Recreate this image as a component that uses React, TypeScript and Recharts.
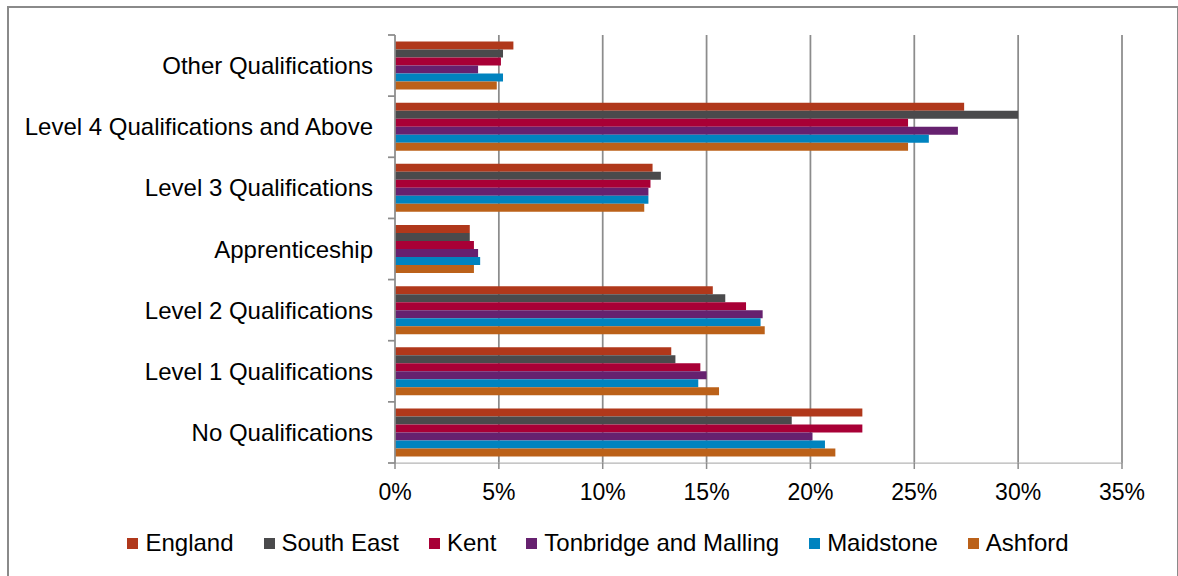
import {
  BarChart,
  Bar,
  XAxis,
  YAxis,
  CartesianGrid,
  Legend,
} from 'recharts'

const categories = [
  'Other Qualifications',
  'Level 4 Qualifications and Above',
  'Level 3 Qualifications',
  'Apprenticeship',
  'Level 2 Qualifications',
  'Level 1 Qualifications',
  'No Qualifications',
]

const england = [5.7, 27.4, 12.4, 3.6, 15.3, 13.3, 22.5]
const southEast = [5.2, 30.0, 12.8, 3.6, 15.9, 13.5, 19.1]
const kent = [5.1, 24.7, 12.3, 3.8, 16.9, 14.7, 22.5]
const tonbridge = [4.0, 27.1, 12.2, 4.0, 17.7, 15.0, 20.1]
const maidstone = [5.2, 25.7, 12.2, 4.1, 17.6, 14.6, 20.7]
const ashford = [4.9, 24.7, 12.0, 3.8, 17.8, 15.6, 21.2]

const xTicks = [0, 5, 10, 15, 20, 25, 30, 35]

const series = [
  { key: 'england', name: 'England', color: '#B0381B', values: england },
  { key: 'southEast', name: 'South East', color: '#4A4A4C', values: southEast },
  { key: 'kent', name: 'Kent', color: '#A80036', values: kent },
  { key: 'tonbridge', name: 'Tonbridge and Malling', color: '#66216F', values: tonbridge },
  { key: 'maidstone', name: 'Maidstone', color: '#0083BF', values: maidstone },
  { key: 'ashford', name: 'Ashford', color: '#BB6119', values: ashford },
]

const data = categories.map((name, i) => {
  const row: Record<string, string | number> = { name }
  series.forEach((s) => {
    row[s.key] = s.values[i]
  })
  return row
})

const WIDTH = 1178
const HEIGHT = 576
const FONT = '"Liberation Sans", Arial, sans-serif'
const AXIS_GREY = '#8c8c8c'
const PLOT_TOP = 35
const PLOT_BOTTOM = 463
const BAND_HALF = (PLOT_BOTTOM - PLOT_TOP) / categories.length / 2
const Y_TICK_SIZE = 7
const Y_TICK_MARGIN = 15

// category label centred on the band, tick marks on the band edges
function CategoryTick(props: any) {
  const { x, y, payload, index, visibleTicksCount } = props
  const axisX = x + Y_TICK_SIZE + Y_TICK_MARGIN
  const last = index === visibleTicksCount - 1
  return (
    <g>
      <line
        x1={axisX - Y_TICK_SIZE}
        x2={axisX}
        y1={y - BAND_HALF}
        y2={y - BAND_HALF}
        stroke={AXIS_GREY}
        strokeWidth={1.75}
      />
      {last && (
        <line
          x1={axisX - Y_TICK_SIZE}
          x2={axisX}
          y1={y + BAND_HALF}
          y2={y + BAND_HALF}
          stroke={AXIS_GREY}
          strokeWidth={1.75}
        />
      )}
      <text
        x={x}
        y={y}
        dy="0.355em"
        textAnchor="end"
        fill="#000"
        fontSize={24}
        fontFamily={FONT}
      >
        {payload.value}
      </text>
    </g>
  )
}

// legend keeps the series order rather than sorting by name
function LegendContent() {
  return (
    <div
      style={{
        display: 'flex',
        justifyContent: 'center',
        alignItems: 'center',
        height: 30,
        paddingLeft: 18,
        fontFamily: FONT,
        fontSize: 24,
        color: '#000',
      }}
    >
      {series.map((s, i) => (
        <div
          key={s.key}
          style={{ display: 'flex', alignItems: 'center', marginLeft: i ? 30 : 0 }}
        >
          <span
            style={{
              display: 'inline-block',
              width: 11,
              height: 11,
              background: s.color,
              marginRight: 7,
            }}
          />
          <span>{s.name}</span>
        </div>
      ))}
    </div>
  )
}

export default function App() {
  return (
    <div
      style={{
        position: 'absolute',
        left: 0,
        top: 0,
        width: WIDTH,
        height: HEIGHT,
        overflow: 'hidden',
        background: '#fff',
      }}
    >
      <div
        style={{
          position: 'absolute',
          left: 7,
          top: 6,
          width: 1168,
          height: 600,
          border: '2px solid #8a8a8a',
        }}
      />
      <BarChart
        width={WIDTH}
        height={HEIGHT}
        data={data}
        layout="vertical"
        margin={{ top: PLOT_TOP, right: 56, bottom: 18, left: 0 }}
        barCategoryGap="10.75%"
        barGap={0}
      >
        <CartesianGrid
          horizontal={false}
          stroke={AXIS_GREY}
          strokeWidth={1.75}
          verticalValues={xTicks.slice(1)}
        />
        <XAxis
          type="number"
          domain={[0, 35]}
          ticks={xTicks}
          tickFormatter={(v: number) => `${v}%`}
          height={65}
          tickSize={6}
          tickMargin={15}
          axisLine={{ stroke: '#b5b5b5', strokeWidth: 1.25 }}
          tickLine={{ stroke: AXIS_GREY, strokeWidth: 1.5 }}
          tick={{ fill: '#000', fontSize: 23, fontFamily: FONT }}
        />
        <YAxis
          type="category"
          dataKey="name"
          width={395}
          tickSize={Y_TICK_SIZE}
          tickMargin={Y_TICK_MARGIN}
          tickLine={false}
          axisLine={{ stroke: AXIS_GREY, strokeWidth: 1.75 }}
          tick={<CategoryTick />}
          interval={0}
        />
        <Legend
          verticalAlign="bottom"
          content={<LegendContent />}
          wrapperStyle={{ left: 0, width: WIDTH }}
        />
        {series.map((s) => (
          <Bar
            key={s.key}
            dataKey={s.key}
            name={s.name}
            fill={s.color}
            isAnimationActive={false}
          />
        ))}
      </BarChart>
    </div>
  )
}
